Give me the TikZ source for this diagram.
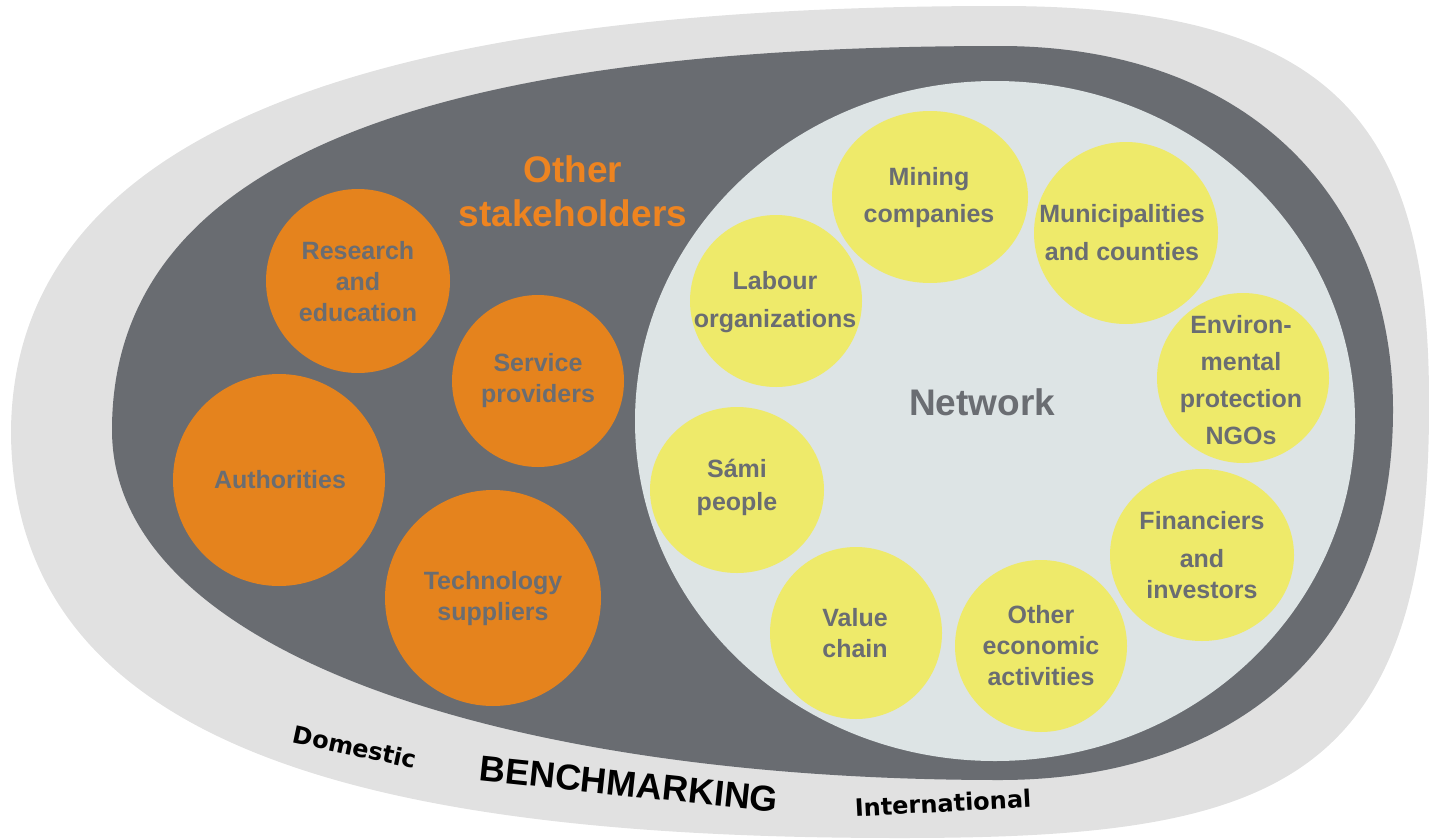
\documentclass[tikz,border=0pt]{standalone}
\usepackage{fontspec}
\setmainfont{Liberation Sans}
\newfontfamily\dejavu{DejaVu Sans}
\definecolor{outerc}{HTML}{E1E1E1}
\definecolor{darkc}{HTML}{696C71}
\definecolor{netc}{HTML}{DDE4E5}
\definecolor{yelc}{HTML}{EEEA6A}
\definecolor{orac}{HTML}{E5831D}
\definecolor{txtc}{HTML}{6A6D72}
\definecolor{otxt}{HTML}{EE8420}
\begin{document}
\begin{tikzpicture}[x=1pt,y=-1pt,
  lbl/.style={align=center,text=txtc,font=\fontsize{25}{31}\selectfont\bfseries,inner sep=0pt},
  big/.style={align=center,font=\fontsize{37}{44}\selectfont\bfseries,inner sep=0pt},
  yel/.style={fill=yelc},
  ora/.style={fill=orac}]
\useasboundingbox (0,0) rectangle (1429,838);
\clip (0,0) rectangle (1429,838);
% outer light band
\fill[outerc] (11,430) .. controls (15,100) and (450,6) .. (1000,6)
  .. controls (1330,6) and (1429,120) .. (1429,400)
  .. controls (1431,790) and (1270,838) .. (900,838)
  .. controls (400,838) and (11,760) .. (11,430) -- cycle;
% dark band
\fill[darkc] (112,430) .. controls (112,150) and (450,46) .. (1000,46)
  .. controls (1250,46) and (1393,200) .. (1393,410)
  .. controls (1393,660) and (1220,780) .. (1000,780)
  .. controls (500,780) and (112,650) .. (112,430) -- cycle;
% network
\fill[netc] (995,421) ellipse [x radius=360, y radius=340];
% orange circles
\fill[ora] (358,281) ellipse [x radius=92, y radius=92];
\fill[ora] (538,381) ellipse [x radius=86, y radius=86];
\fill[ora] (279,480) ellipse [x radius=106, y radius=106];
\fill[ora] (493,598) ellipse [x radius=108, y radius=108];
% yellow circles
\fill[yel] (930,197) ellipse [x radius=98, y radius=86];
\fill[yel] (1126,233) ellipse [x radius=92, y radius=91];
\fill[yel] (776,301) ellipse [x radius=86, y radius=86];
\fill[yel] (1243,378) ellipse [x radius=86, y radius=85];
\fill[yel] (1202,555) ellipse [x radius=92, y radius=86];
\fill[yel] (1041,646) ellipse [x radius=86, y radius=86];
\fill[yel] (856,633) ellipse [x radius=86, y radius=86];
\fill[yel] (737,490) ellipse [x radius=87, y radius=83];
% titles
\node[big,text=otxt] (others) at (573,191) {Other\\stakeholders};
\node[big,text=txtc] (network) at (982,402) {Network};
% orange labels
\node[lbl] (research) at (358,282) {Research\\and\\education};
\node[lbl] (service) at (538,381) {Service\\providers};
\node[lbl] (auth) at (280,480) {Authorities};
\node[lbl] (tech) at (493,599) {Technology\\suppliers};
% yellow labels
\node[lbl] (mining) at (929,198) {Mining\\[6pt]companies};
\node[lbl] (munic) at (1122,233) {Municipalities\\[7pt]and counties};
\node[lbl] (labour) at (775,302) {Labour\\[7pt]organizations};
\node[lbl] (env) at (1241,380) {Environ-\\[6pt]mental\\[6pt]protection\\[6pt]NGOs};
\node[lbl] (fin) at (1202,555) {Financiers\\[7pt]and\\investors};
\node[lbl] (sami) at (737,487) {Sámi\\[2pt]people};
\node[lbl] (value) at (855,633) {Value\\chain};
\node[lbl] (econ) at (1041,646) {Other\\economic\\activities};
% bottom labels
\node[inner sep=0pt,font=\dejavu\fontsize{24}{28}\selectfont\bfseries,rotate=-12] (dom) at (355,747) {Domestic};
\node[inner sep=0pt,font=\fontsize{36}{40}\selectfont\bfseries,rotate=-6] (bench) at (629,784) {BENCHMARKING};
\node[inner sep=0pt,font=\dejavu\fontsize{24}{28}\selectfont\bfseries,rotate=3] (intl) at (943,803) {International};
\end{tikzpicture}
\end{document}
